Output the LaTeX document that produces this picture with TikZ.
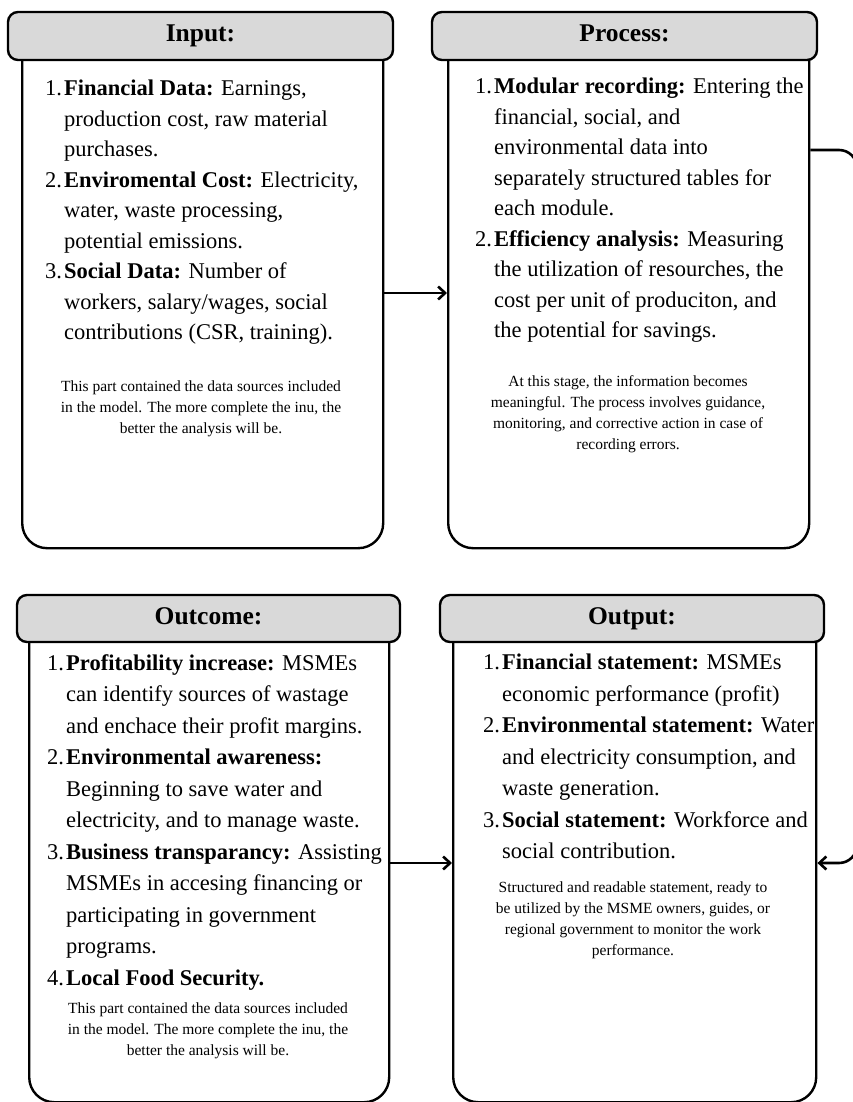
\documentclass[tikz,border=0pt]{standalone}
\usepackage{fontspec}
\setmainfont{Liberation Serif}
\usetikzlibrary{arrows.meta}

\definecolor{headgray}{HTML}{D9D9D9}
\newcommand{\itemno}[1]{\makebox[19pt][l]{#1}}
\newcommand{\contline}{\hspace*{19pt}}

\tikzset{
  head/.style={draw, line width=2.4pt, rounded corners=10pt, fill=headgray, minimum height=48pt, inner sep=0pt, text height=18pt, text depth=6pt, font=\fontsize{25.5}{30}\selectfont\bfseries},
  body/.style={draw, line width=2.4pt, rounded corners=25pt, fill=white, anchor=north west, inner sep=0pt},
  listtext/.style={anchor=north west, inner sep=0pt, align=left, font=\fontsize{22.5}{30.5}\selectfont},
  notetext/.style={anchor=north, inner sep=0pt, align=center, font=\fontsize{15.5}{21}\selectfont},
  flow/.style={line width=2.6pt, -{Straight Barb[length=7pt,width=13pt,line width=2.6pt]}}
}

\begin{document}
\begin{tikzpicture}[x=1pt,y=-1pt]
  \useasboundingbox (0,0) rectangle (853,1102);
  \clip (0,0) rectangle (853,1102);

  % boxes
  \node[body, minimum width=361pt, minimum height=517pt] (inbody) at (21,30) {};
  \node[body, minimum width=361pt, minimum height=517pt] (procbody) at (447,30) {};
  \node[body, minimum width=360pt, minimum height=486pt] (outcbody) at (28,615) {};
  \node[body, minimum width=363pt, minimum height=486pt] (outpbody) at (452,615) {};

  \node[head, minimum width=385pt] (inhead) at (200.5,36) {Input:};
  \node[head, minimum width=385pt] (prochead) at (624.5,36) {Process:};
  \node[head, minimum width=383pt, minimum height=47pt] (outchead) at (208.5,618.5) {Outcome:};
  \node[head, minimum width=384pt, minimum height=47pt] (outphead) at (632,618.5) {Output:};

  % lists
  \node[listtext] (inlist) at (45,80) {\itemno{1.}\textbf{Financial Data:} Earnings,\\
    \contline production cost, raw material\\
    \contline purchases.\\
    \itemno{2.}\textbf{Enviromental Cost:} Electricity,\\
    \contline water, waste processing,\\
    \contline potential emissions.\\
    \itemno{3.}\textbf{Social Data:} Number of\\
    \contline workers, salary/wages, social\\
    \contline contributions (CSR, training).};
  \node[listtext] (proclist) at (475,78) {\itemno{1.}\textbf{Modular recording:} Entering the\\
    \contline financial, social, and\\
    \contline environmental data into\\
    \contline separately structured tables for\\
    \contline each module.\\
    \itemno{2.}\textbf{Efficiency analysis:} Measuring\\
    \contline the utilization of resourches, the\\
    \contline cost per unit of produciton, and\\
    \contline the potential for savings.};
  \node[listtext, font=\fontsize{22.5}{31.5}\selectfont] (outclist) at (47,654) {\itemno{1.}\textbf{Profitability increase:} MSMEs\\
    \contline can identify sources of wastage\\
    \contline and enchace their profit margins.\\
    \itemno{2.}\textbf{Environmental awareness:}\\
    \contline Beginning to save water and\\
    \contline electricity, and to manage waste.\\
    \itemno{3.}\textbf{Business transparancy:} Assisting\\
    \contline MSMEs in accesing financing or\\
    \contline participating in government\\
    \contline programs.\\
    \itemno{4.}\textbf{Local Food Security.}};
  \node[listtext, font=\fontsize{22.5}{31.5}\selectfont] (outplist) at (483,654) {\itemno{1.}\textbf{Financial statement:} MSMEs\\
    \contline economic performance (profit)\\
    \itemno{2.}\textbf{Environmental statement:} Water\\
    \contline and electricity consumption, and\\
    \contline waste generation.\\
    \itemno{3.}\textbf{Social statement:} Workforce and\\
    \contline social contribution.};

  % notes
  \node[notetext] (innote) at (201,381) {This part contained the data sources included\\ in the model. The more complete the inu, the\\ better the analysis will be.};
  \node[notetext] (procnote) at (628,375) {At this stage, the information becomes\\ meaningful. The process involves guidance,\\ monitoring, and corrective action in case of\\ recording errors.};
  \node[notetext] (outcnote) at (208,1003) {This part contained the data sources included\\ in the model. The more complete the inu, the\\ better the analysis will be.};
  \node[notetext] (outpnote) at (633,882) {Structured and readable statement, ready to\\ be utilized by the MSME owners, guides, or\\ regional government to monitor the work\\ performance.};

  % connectors
  \coordinate (midtop) at (415,293);
  \coordinate (midbot) at (420,863);
  \coordinate (loopa) at (857,150);
  \coordinate (loopb) at (857,863);
  \draw[flow] (inbody.east |- midtop) -- (procbody.west |- midtop);
  \draw[flow] (outcbody.east |- midbot) -- (outpbody.west |- midbot);
  \draw[flow, rounded corners=18pt] (procbody.east |- loopa) -- (loopa) -- (loopb) -- (outpbody.east |- loopb);
\end{tikzpicture}
\end{document}
